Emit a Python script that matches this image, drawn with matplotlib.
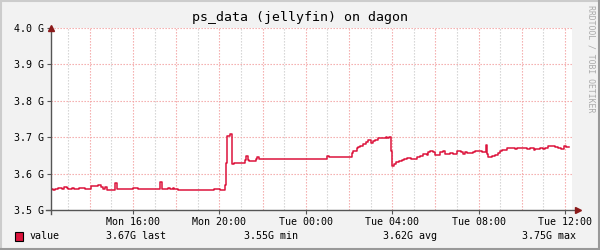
import matplotlib
matplotlib.use("Agg")
import matplotlib.pyplot as plt
import matplotlib.dates as mdates
from matplotlib.lines import Line2D
import pandas as pd

# step series: start of each step, hours since Mon 00:00, and value in G
hours = [12.20, 12.31, 12.39, 12.54, 12.70, 12.81, 12.93, 13.00, 13.16, 13.27,
         13.51, 13.78, 14.06, 14.24, 14.39, 14.50, 14.60, 14.70, 14.81, 15.17,
         15.25, 15.99, 16.25, 17.25, 17.33, 17.63, 17.71, 17.84, 17.90, 18.10,
         19.76, 20.03, 20.26, 20.31, 20.35, 20.49, 20.57, 20.60, 20.69, 21.19,
         21.25, 21.31, 21.37, 21.71, 21.75, 21.85, 25.00, 25.09, 26.12, 26.20,
         26.36, 26.43, 26.51, 26.63, 26.77, 26.89, 27.00, 27.10, 27.20, 27.36,
         27.59, 27.70, 27.77, 27.87, 27.93, 27.98, 28.08, 28.18, 28.33, 28.44,
         28.55, 28.70, 28.86, 29.13, 29.29, 29.44, 29.60, 29.67, 29.75, 29.90,
         29.98, 30.21, 30.37, 30.44, 30.68, 30.83, 30.99, 31.19, 31.29, 31.37,
         31.45, 31.75, 31.83, 32.14, 32.34, 32.40, 32.45, 32.60, 32.76, 32.88,
         32.99, 33.10, 33.30, 33.69, 33.77, 33.84, 34.23, 34.38, 34.54, 34.61,
         34.84, 35.00, 35.07, 35.19, 35.31, 35.54, 35.69, 35.81, 35.88, 35.95,
         36.03, 36.19]
values = [3.558, 3.555, 3.558, 3.560, 3.558, 3.562, 3.560, 3.558, 3.560, 3.558,
          3.560, 3.558, 3.565, 3.567, 3.569, 3.562, 3.558, 3.562, 3.555, 3.573,
          3.558, 3.560, 3.558, 3.576, 3.558, 3.560, 3.558, 3.560, 3.558, 3.554,
          3.557, 3.554, 3.569, 3.628, 3.702, 3.708, 3.667, 3.626, 3.628, 3.637,
          3.649, 3.637, 3.635, 3.640, 3.646, 3.640, 3.649, 3.646, 3.656, 3.662,
          3.669, 3.674, 3.677, 3.682, 3.688, 3.693, 3.683, 3.690, 3.693, 3.699,
          3.697, 3.701, 3.699, 3.701, 3.662, 3.622, 3.626, 3.633, 3.635, 3.637,
          3.639, 3.644, 3.639, 3.645, 3.648, 3.653, 3.651, 3.659, 3.662, 3.659,
          3.651, 3.659, 3.662, 3.654, 3.656, 3.654, 3.662, 3.659, 3.654, 3.659,
          3.656, 3.659, 3.662, 3.659, 3.679, 3.653, 3.645, 3.647, 3.651, 3.657,
          3.662, 3.665, 3.669, 3.667, 3.671, 3.669, 3.667, 3.669, 3.665, 3.668,
          3.669, 3.667, 3.671, 3.676, 3.677, 3.674, 3.669, 3.667, 3.667, 3.676,
          3.674, 3.674]

title = "ps_data (jellyfin) on dagon"
legend_name = "value"
legend_stats = ["3.67G last", "3.55G min", "3.62G avg", "3.75G max"]
y_ticks = [3.5, 3.6, 3.7, 3.8, 3.9, 4.0]

monday = pd.Timestamp("2024-01-01")
times = [monday + pd.Timedelta(hours=h) for h in hours]

mono = "DejaVu Sans Mono"
line_col = "#dc143c"
bg = "#f2f2f2"

fig = plt.figure(figsize=(6, 2.5), dpi=100, facecolor=bg)
ax = fig.add_axes([51 / 600, 1 - 210 / 250, 521 / 600, 182 / 250])
ax.set_facecolor("white")

ax.step(times, values, where="post", color=line_col, lw=1.1, zorder=3)

x0 = monday + pd.Timedelta(hours=12.20)
x1 = monday + pd.Timedelta(hours=36.32)
ax.set_xlim(x0, x1)
ax.set_ylim(3.5, 4.0)

# grid: red dotted every 2h, grey dotted every hour, red dotted every 0.1 G
for h in range(13, 37):
    t = monday + pd.Timedelta(hours=h)
    col = "#f3a3a3" if h % 2 == 0 else "#cfcfcf"
    ax.axvline(t, color=col, lw=0.8, linestyle=(0, (1.2, 1.5)), zorder=1)
for v in y_ticks[1:]:
    ax.axhline(v, color="#f3a3a3", lw=0.8, linestyle=(0, (1.2, 1.5)), zorder=1)

for s in ax.spines.values():
    s.set_visible(False)
ax.add_line(Line2D([0, 0], [-0.02, 1.0], transform=ax.transAxes, color="#555555",
                   lw=1, clip_on=False, zorder=4))
ax.add_line(Line2D([-0.01, 1.01], [0, 0], transform=ax.transAxes, color="#555555",
                   lw=1, clip_on=False, zorder=4))
ax.plot([0], [1.0], marker="^", color="#8b1a1a", ms=5, transform=ax.transAxes,
        clip_on=False, zorder=5)
ax.plot([1.012], [0], marker=">", color="#8b1a1a", ms=5, transform=ax.transAxes,
        clip_on=False, zorder=5)

ax.set_yticks(y_ticks)
ax.set_yticklabels(["%.1f G" % v for v in y_ticks])
ax.xaxis.set_major_locator(mdates.HourLocator(byhour=[0, 4, 8, 12, 16, 20]))
ax.xaxis.set_major_formatter(mdates.DateFormatter("%a %H:%M"))
ax.tick_params(axis="both", labelsize=7.2, colors="#555555", length=3, width=0.8,
               pad=2, labelcolor="black")
for lab in ax.get_xticklabels() + ax.get_yticklabels():
    lab.set_fontfamily(mono)

fig.text(0.5, 1 - 18 / 250, title, ha="center", va="center", fontsize=9.5,
         family=mono)
fig.text(591 / 600, 1 - 59 / 250, "RRDTOOL / TOBI OETIKER", rotation=270,
         ha="center", va="center", fontsize=5.9, family=mono, color="#aaaaaa")

# legend row
fig.patches.append(plt.Rectangle((15 / 600, 1 - 241 / 250), 8 / 600, 9 / 250,
                                 transform=fig.transFigure, facecolor=line_col,
                                 edgecolor="black", lw=0.8))
fig.text(30 / 600, 1 - 236 / 250, legend_name, ha="left", va="center",
         fontsize=7.2, family=mono)
for xp, s in zip([106, 244, 383, 522], legend_stats):
    fig.text(xp / 600, 1 - 236 / 250, s, ha="left", va="center", fontsize=7.2,
             family=mono)

# frame
fig.add_artist(Line2D([0, 1], [0.998, 0.998], transform=fig.transFigure, color="#cccccc", lw=1.5))
fig.add_artist(Line2D([0.001, 0.001], [0, 1], transform=fig.transFigure, color="#cccccc", lw=1.5))
fig.add_artist(Line2D([0, 1], [0.003, 0.003], transform=fig.transFigure, color="#999999", lw=1.5))
fig.add_artist(Line2D([0.998, 0.998], [0, 1], transform=fig.transFigure, color="#999999", lw=1.5))

fig.savefig("out.png", dpi=100, facecolor=bg)
